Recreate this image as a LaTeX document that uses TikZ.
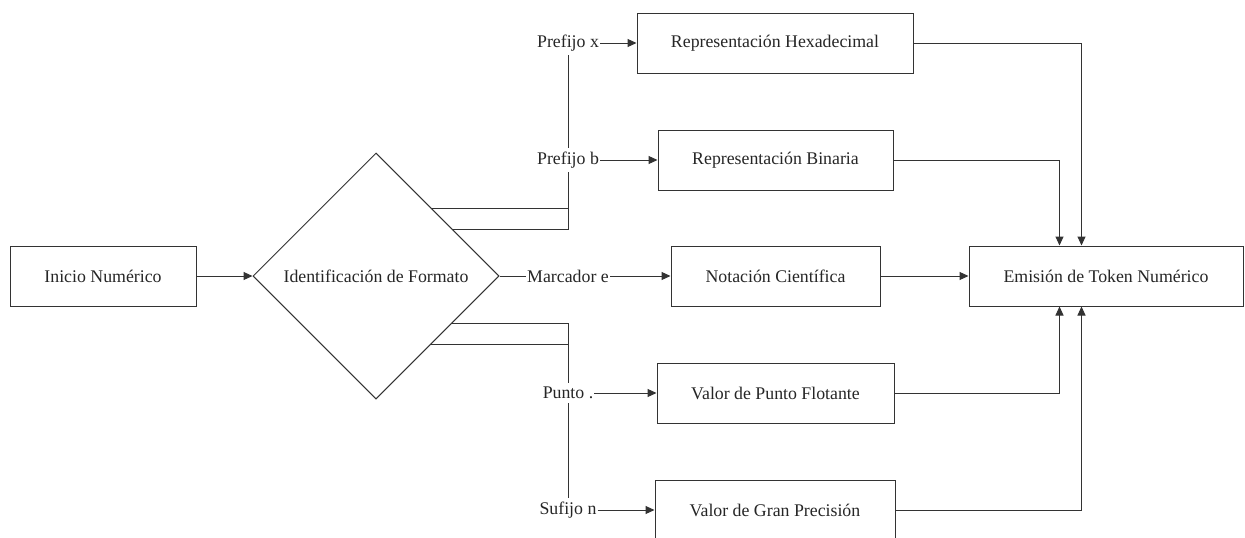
\documentclass[tikz,border=0pt]{standalone}
\usepackage{fontspec}
\setmainfont{Liberation Serif}
\usetikzlibrary{shapes.geometric,arrows.meta,calc,backgrounds}
\begin{document}
\begin{tikzpicture}[x=1pt,y=-1pt,
  every node/.style={font=\fontsize{17.8}{21}\selectfont, text=black!85},
  line/.style={draw=black!80, line width=1pt},
  flow/.style={line, -{Triangle[length=9pt,width=8pt]}},
  box/.style={draw=black!80, line width=1pt, rectangle, minimum height=60pt, inner sep=0pt, fill=white},
  decision/.style={draw=black!80, line width=1pt, diamond, minimum width=246pt, minimum height=246pt, inner sep=0pt, fill=white},
  tag/.style={fill=white, inner xsep=1pt, inner ysep=4pt}]
\useasboundingbox (0,0) rectangle (1245,538);
\clip (0,0) rectangle (1245,538);

% process nodes
\node[box, minimum width=186pt] (start) at (103,276) {Inicio Numérico};
\node[decision] (fmt) at (376,276) {Identificación de Formato};
\node[box, minimum width=276pt] (hex) at (775,43) {Representación Hexadecimal};
\node[box, minimum width=235pt] (bin) at (775.5,160) {Representación Binaria};
\node[box, minimum width=209pt] (sci) at (775.5,276) {Notación Científica};
\node[box, minimum width=237pt] (flt) at (775.5,393) {Valor de Punto Flotante};
\node[box, minimum width=240pt] (big) at (775,510) {Valor de Gran Precisión};
\node[box, minimum width=274pt] (out) at (1106,276) {Emisión de Token Numérico};

% edge labels
\node[tag] (lx) at (568,43) {Prefijo x};
\node[tag] (lb) at (568,160) {Prefijo b};
\node[tag] (le) at (568,276) {Marcador e};
\node[tag] (lp) at (568,393) {Punto .};
\node[tag] (ln) at (568,510) {Sufijo n};

\begin{scope}[on background layer]
  \fill[white] (0,0) rectangle (1245,538);
  \draw[flow] (start.east) -- (fmt.west);
  % branches leaving the decision
  \draw[line] ($(fmt.north)!0.455!(fmt.east)$) -| (lx.south);
  \draw[flow] (lx) -- (hex);
  \draw[line] ($(fmt.north)!0.626!(fmt.east)$) -| (lb.south);
  \draw[flow] (lb) -- (bin);
  \draw[line] (fmt.east) -- (le.west);
  \draw[flow] (le) -- (sci);
  \draw[line] ($(fmt.south)!0.618!(fmt.east)$) -| (lp.north);
  \draw[flow] (lp) -- (flt);
  \draw[line] ($(fmt.south)!0.447!(fmt.east)$) -| (ln.north);
  \draw[flow] (ln) -- (big);
  % merging into the token emission
  \draw[flow] (hex.east) -| ($(out.north west)+(113,0)$);
  \draw[flow] (bin.east) -| ($(out.north west)+(91,0)$);
  \draw[flow] (sci) -- (out);
  \draw[flow] (flt.east) -| ($(out.south west)+(91,0)$);
  \draw[flow] (big.east) -| ($(out.south west)+(113,0)$);
\end{scope}
\end{tikzpicture}
\end{document}
